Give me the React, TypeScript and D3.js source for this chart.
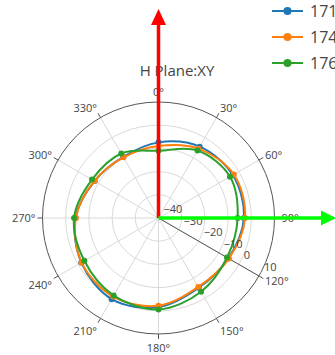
import React from "react";
import * as d3 from "d3";

const angles = [0, 30, 60, 90, 120, 150, 180, 210, 240, 270, 300, 330];
const seriesNames = ["1710MHz", "1740MHz", "1760MHz"];
const seriesColors = ["#1f77b4", "#ff7f0e", "#2ca02c"];
const blueValues = [-7.4, -4.5, -3.0, -3.2, -5.2, -5.3, -1.6, 0.4, -1.6, -4.2, -8.2, -9.6];
const orangeValues = [-9.0, -5.5, -2.5, -2.7, -5.0, -5.7, -2.2, -0.9, -1.7, -4.4, -8.1, -9.8];
const greenValues = [-11.0, -6.4, -4.4, -5.9, -5.9, -3.3, -0.6, -1.4, -3.1, -3.6, -6.9, -7.9];
const radialTicks = [-40, -30, -20, -10, 0, 10];
const angularTicks = [0, 30, 60, 90, 120, 150, 180, 210, 240, 270, 300, 330];
const titleText = "H Plane:XY";

const W = 335;
const H = 355;
const cx = 158.5;
const cy = 218;
const R = 116;
const FONT = "'Open Sans', verdana, arial, sans-serif";

export default function App() {
  const r = d3.scaleLinear().domain([-40, 10]).range([0, R]);
  const rad = (deg: number) => (deg * Math.PI) / 180;
  const pt = (deg: number, rr: number): [number, number] => [
    cx + rr * Math.sin(rad(deg)),
    cy - rr * Math.cos(rad(deg)),
  ];
  const line = d3
    .lineRadial<[number, number]>()
    .angle((d) => rad(d[0]))
    .radius((d) => r(d[1]))
    .curve(d3.curveCatmullRomClosed.alpha(0.5));
  const allSeries = [blueValues, orangeValues, greenValues];
  const radialAxisAngle = 120;
  const fs = 11;

  return (
    <svg
      width={W}
      height={H}
      style={{ position: "absolute", left: 0, top: 0, background: "#fff" }}
      fontFamily={FONT}
    >
      {/* grid circles */}
      {radialTicks.slice(1, -1).map((t) => (
        <circle key={t} cx={cx} cy={cy} r={r(t)} fill="none" stroke="#d9d9d9" strokeWidth={1} />
      ))}
      {/* spokes */}
      {angularTicks.map((a) => {
        const [x, y] = pt(a, R);
        return <line key={a} x1={cx} y1={cy} x2={x} y2={y} stroke="#d9d9d9" strokeWidth={1} />;
      })}
      {/* outer circle */}
      <circle cx={cx} cy={cy} r={R} fill="none" stroke="#555" strokeWidth={1} />
      {/* angular ticks and labels */}
      {angularTicks.map((a) => {
        const [x1, y1] = pt(a, R);
        const [x2, y2] = pt(a, R + 5);
        const [lx, ly] = pt(a, R + 7);
        const s = Math.sin(rad(a));
        const c = Math.cos(rad(a));
        const anchor = s > 0.1 ? "start" : s < -0.1 ? "end" : "middle";
        return (
          <g key={a}>
            <line x1={x1} y1={y1} x2={x2} y2={y2} stroke="#555" strokeWidth={1} />
            <text
              x={lx}
              y={ly + fs * 0.35 - c * fs * 0.3 + (c < -0.5 ? 4 : 0)}
              textAnchor={anchor}
              fontSize={fs}
              fill="#444"
            >
              {a}°
            </text>
          </g>
        );
      })}
      {/* radial axis line */}
      {(() => {
        const [x, y] = pt(radialAxisAngle, R);
        return <line x1={cx} y1={cy} x2={x} y2={y} stroke="#555" strokeWidth={1} />;
      })()}
      {/* traces */}
      {allSeries.map((vals, i) => {
        const data: [number, number][] = angles.map((a, j) => [a, vals[j]]);
        return (
          <g key={i}>
            <path
              d={line(data) || ""}
              transform={`translate(${cx},${cy})`}
              fill="none"
              stroke={seriesColors[i]}
              strokeWidth={2}
            />
            {data.map((d, j) => {
              const [x, y] = pt(d[0], r(d[1]));
              return <circle key={j} cx={x} cy={y} r={3} fill={seriesColors[i]} />;
            })}
          </g>
        );
      })}
      {/* radial tick labels */}
      {radialTicks.map((t) => {
        const [x, y] = pt(radialAxisAngle, r(t));
        return (
          <text key={t} x={x + 5} y={y - 5} fontSize={fs} fill="#444" textAnchor="start">
            {t < 0 ? "\u2212" + Math.abs(t) : String(t)}
          </text>
        );
      })}
      {/* title */}
      <text x={177} y={76} textAnchor="middle" fontSize={15} fill="#444">
        {titleText}
      </text>
      {/* legend */}
      {seriesNames.map((n, i) => {
        const y = 11 + i * 26;
        return (
          <g key={n}>
            <line x1={272} y1={y} x2={303} y2={y} stroke={seriesColors[i]} strokeWidth={2} />
            <circle cx={287.5} cy={y} r={4} fill={seriesColors[i]} />
            <text x={310} y={y + 5.5} fontSize={16} fill="#444">
              {n}
            </text>
          </g>
        );
      })}
      {/* red arrow (up) */}
      <line x1={cx} y1={cy} x2={cx} y2={24} stroke="#ff0000" strokeWidth={3.5} />
      <path d={`M${cx},9 L${cx - 7.5},25 L${cx + 7.5},25 Z`} fill="#ff0000" />
      {/* green arrow (right) */}
      <line x1={cx} y1={cy} x2={322} y2={cy} stroke="#00ff00" strokeWidth={3.5} />
      <path d={`M336,${cy} L321,${cy - 7.5} L321,${cy + 7.5} Z`} fill="#00ff00" />
    </svg>
  );
}
